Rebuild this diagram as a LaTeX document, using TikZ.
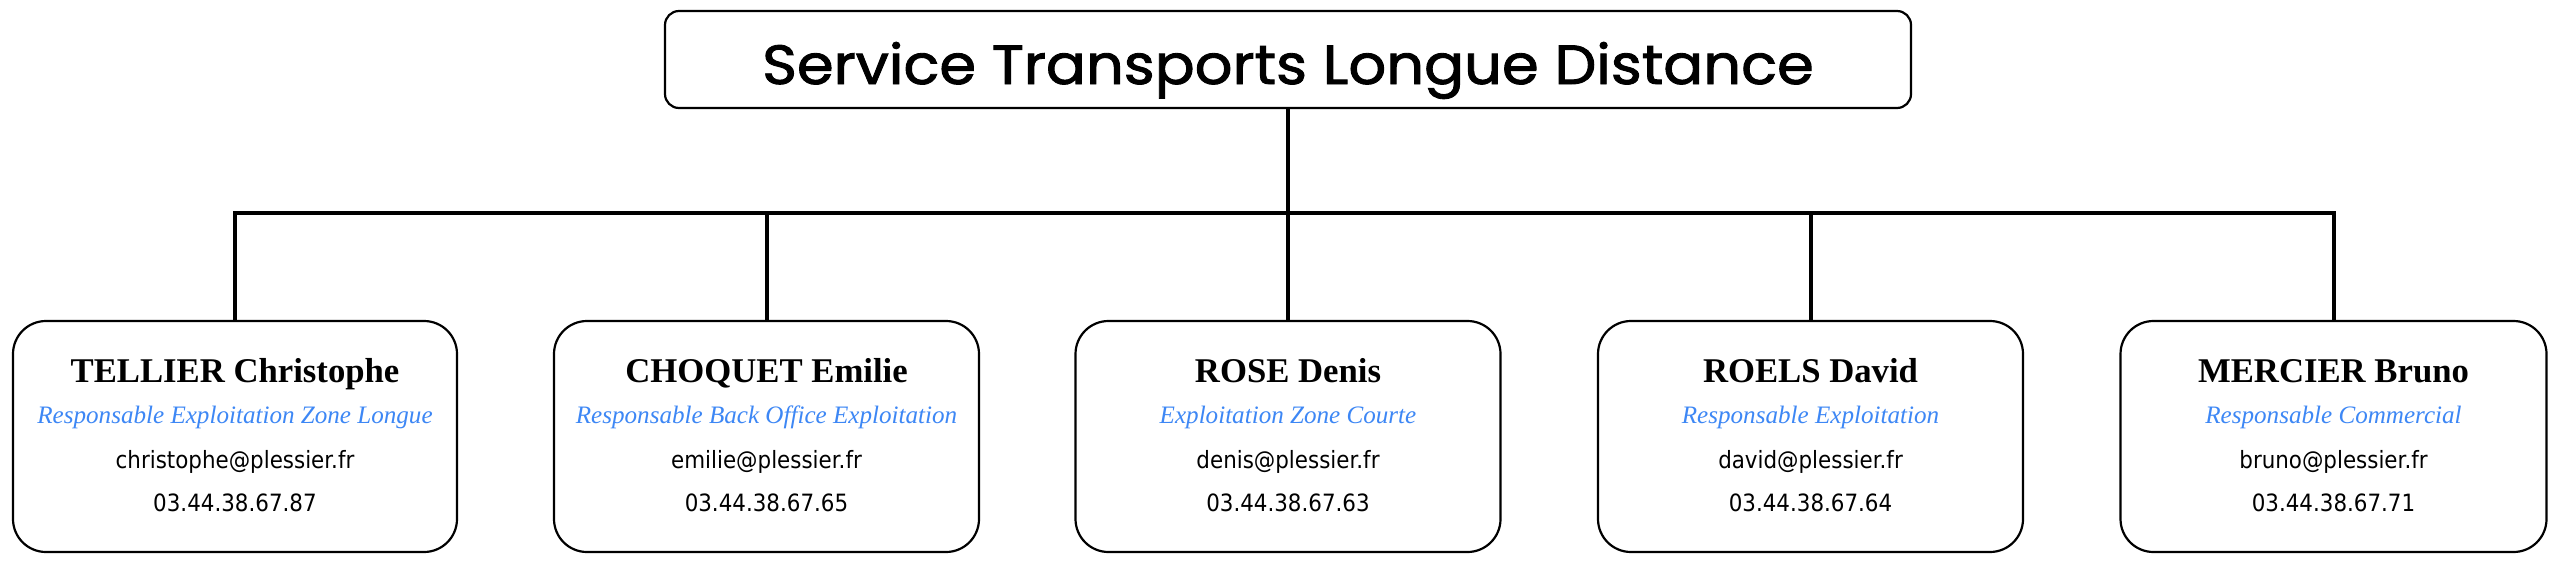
\documentclass[tikz,border=0pt]{standalone}
\usepackage{fontspec}
\usepackage{graphicx}
\setmainfont{Liberation Serif}
\newfontfamily\titlefont[FakeBold=1.6]{Poppins}
\newfontfamily\contactfont[FakeStretch=0.9]{DejaVu Sans}
\definecolor{roleblue}{RGB}{61,135,245}
\tikzset{
  childbox/.style={draw=black, line width=2.2pt, rounded corners=33pt, minimum height=231pt, inner sep=0pt, outer sep=0pt, fill=white},
  topbox/.style={draw=black, line width=2.2pt, rounded corners=14pt, minimum width=1246pt, minimum height=97pt, inner sep=0pt, outer sep=0pt, fill=white},
  conn/.style={draw=black, line width=4pt},
  nametext/.style={anchor=base, inner sep=0pt, font=\fontsize{34.7pt}{40pt}\selectfont\bfseries},
  roletext/.style={anchor=base, inner sep=0pt, text=roleblue, font=\fontsize{25.1pt}{30pt}\selectfont\itshape},
  contacttext/.style={anchor=base, inner sep=0pt, font=\fontsize{23.8pt}{28pt}\contactfont},
  titletext/.style={anchor=base, inner sep=0pt}
}
\begin{document}
\begin{tikzpicture}[x=1pt,y=-1pt]
\useasboundingbox (0,0) rectangle (2554,568);
% top box
\node[topbox] (top) at (1288,59.5) {};
\node[titletext] (title) at (1288,84) {\resizebox{1051pt}{42pt}{\titlefont Service Transports Longue Distance}};
% child boxes
\node[childbox, minimum width=444pt] (b1) at (235,436.5) {};
\node[childbox, minimum width=425pt] (b2) at (766.5,436.5) {};
\node[childbox, minimum width=425pt] (b3) at (1288,436.5) {};
\node[childbox, minimum width=425pt] (b4) at (1810.5,436.5) {};
\node[childbox, minimum width=426pt] (b5) at (2333.5,436.5) {};
% connectors
\coordinate (bus) at (1288,213);
\draw[conn] (b1.north) |- (bus) -| (b5.north);
\draw[conn] (top.south) -- (b3.north);
\draw[conn] (b2.north) -- (b2.north |- bus);
\draw[conn] (b4.north) -- (b4.north |- bus);
% texts box 1
\node[nametext] (n1) at (235,382) {TELLIER Christophe};
\node[roletext] (r1) at (235,423) {Responsable Exploitation Zone Longue};
\node[contacttext] (e1) at (235,468) {christophe@plessier.fr};
\node[contacttext] (p1) at (235,511) {03.44.38.67.87};
% box 2
\node[nametext] (n2) at (766.5,382) {CHOQUET Emilie};
\node[roletext] (r2) at (766.5,423) {Responsable Back Office Exploitation};
\node[contacttext] (e2) at (766.5,468) {emilie@plessier.fr};
\node[contacttext] (p2) at (766.5,511) {03.44.38.67.65};
% box 3
\node[nametext] (n3) at (1288,382) {ROSE Denis};
\node[roletext] (r3) at (1288,423) {Exploitation Zone Courte};
\node[contacttext] (e3) at (1288,468) {denis@plessier.fr};
\node[contacttext] (p3) at (1288,511) {03.44.38.67.63};
% box 4
\node[nametext] (n4) at (1810.5,382) {ROELS David};
\node[roletext] (r4) at (1810.5,423) {Responsable Exploitation};
\node[contacttext] (e4) at (1810.5,468) {david@plessier.fr};
\node[contacttext] (p4) at (1810.5,511) {03.44.38.67.64};
% box 5
\node[nametext] (n5) at (2333.5,382) {MERCIER Bruno};
\node[roletext] (r5) at (2333.5,423) {Responsable Commercial};
\node[contacttext] (e5) at (2333.5,468) {bruno@plessier.fr};
\node[contacttext] (p5) at (2333.5,511) {03.44.38.67.71};
\end{tikzpicture}
\end{document}
